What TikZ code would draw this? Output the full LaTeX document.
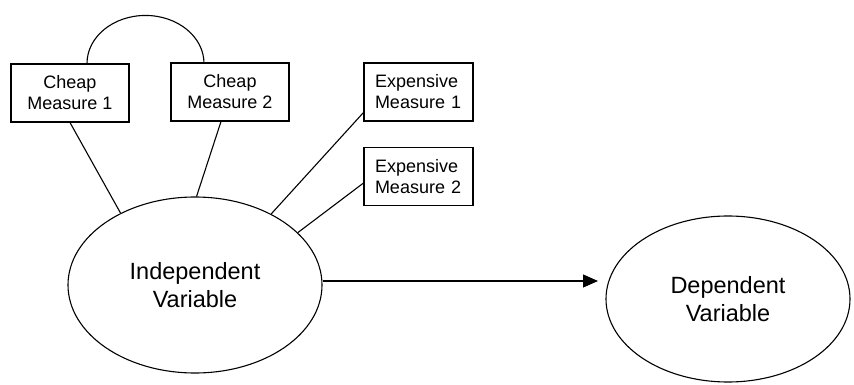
\documentclass[tikz,border=0pt]{standalone}
\usepackage{fontspec}
\setmainfont{Liberation Sans}
\usetikzlibrary{shapes.geometric,calc,arrows.meta}
\begin{document}
\begin{tikzpicture}[x=1pt,y=-1pt,
  every path/.style={line width=1.1pt},
  measbox/.style={draw,rectangle,inner sep=0pt,minimum height=58pt,
    font=\fontsize{18}{21}\selectfont},
  cheapbox/.style={measbox,minimum width=118pt,align=center},
  expbox/.style={measbox,minimum width=109pt,text width=87pt,align=left},
  varell/.style={draw,ellipse,inner sep=0pt,align=center,
    font=\fontsize{23.5}{28}\selectfont},
  link/.style={draw},
  arr/.style={draw,-{Triangle[length=15pt,width=13pt]}}]
\useasboundingbox (0,0) rectangle (854,385);
\node[cheapbox] (c1) at (70,93) {Cheap\\Measure 1};
\node[cheapbox] (c2) at (230,92) {Cheap\\Measure 2};
\node[expbox] (e1) at (418.5,92) {Expensive\\Measure 1};
\node[expbox] (e2) at (418.5,176.5) {Expensive\\Measure 2};
\node[varell,minimum width=254pt,minimum height=176pt] (ind) at (195,285) {Independent\\Variable};
\node[varell,minimum width=244pt,minimum height=166pt] (dep) at (728,299) {Dependent\\Variable};
\coordinate (tip) at (598,281);
% correlation arc between cheap measures
\draw ($(c1.north)+(17,0)$) arc[start angle=180,end angle=360,x radius=58.5,y radius=48];
\draw[link] (c1.south) -- (ind.136);
\draw[link] ($(c2.south)+(-9,0)$) -- (ind.89);
\draw[link] ($(e1.south west)+(0,-9)$) -- (ind.43.5);
\draw[link] ($(e2.south west)+(0,-23)$) -- (ind.27.5);
\draw[arr] ($(ind.east)+(0,-4)$) -- ($(ind.east -| tip)+(0,-4)$);
\end{tikzpicture}
\end{document}
